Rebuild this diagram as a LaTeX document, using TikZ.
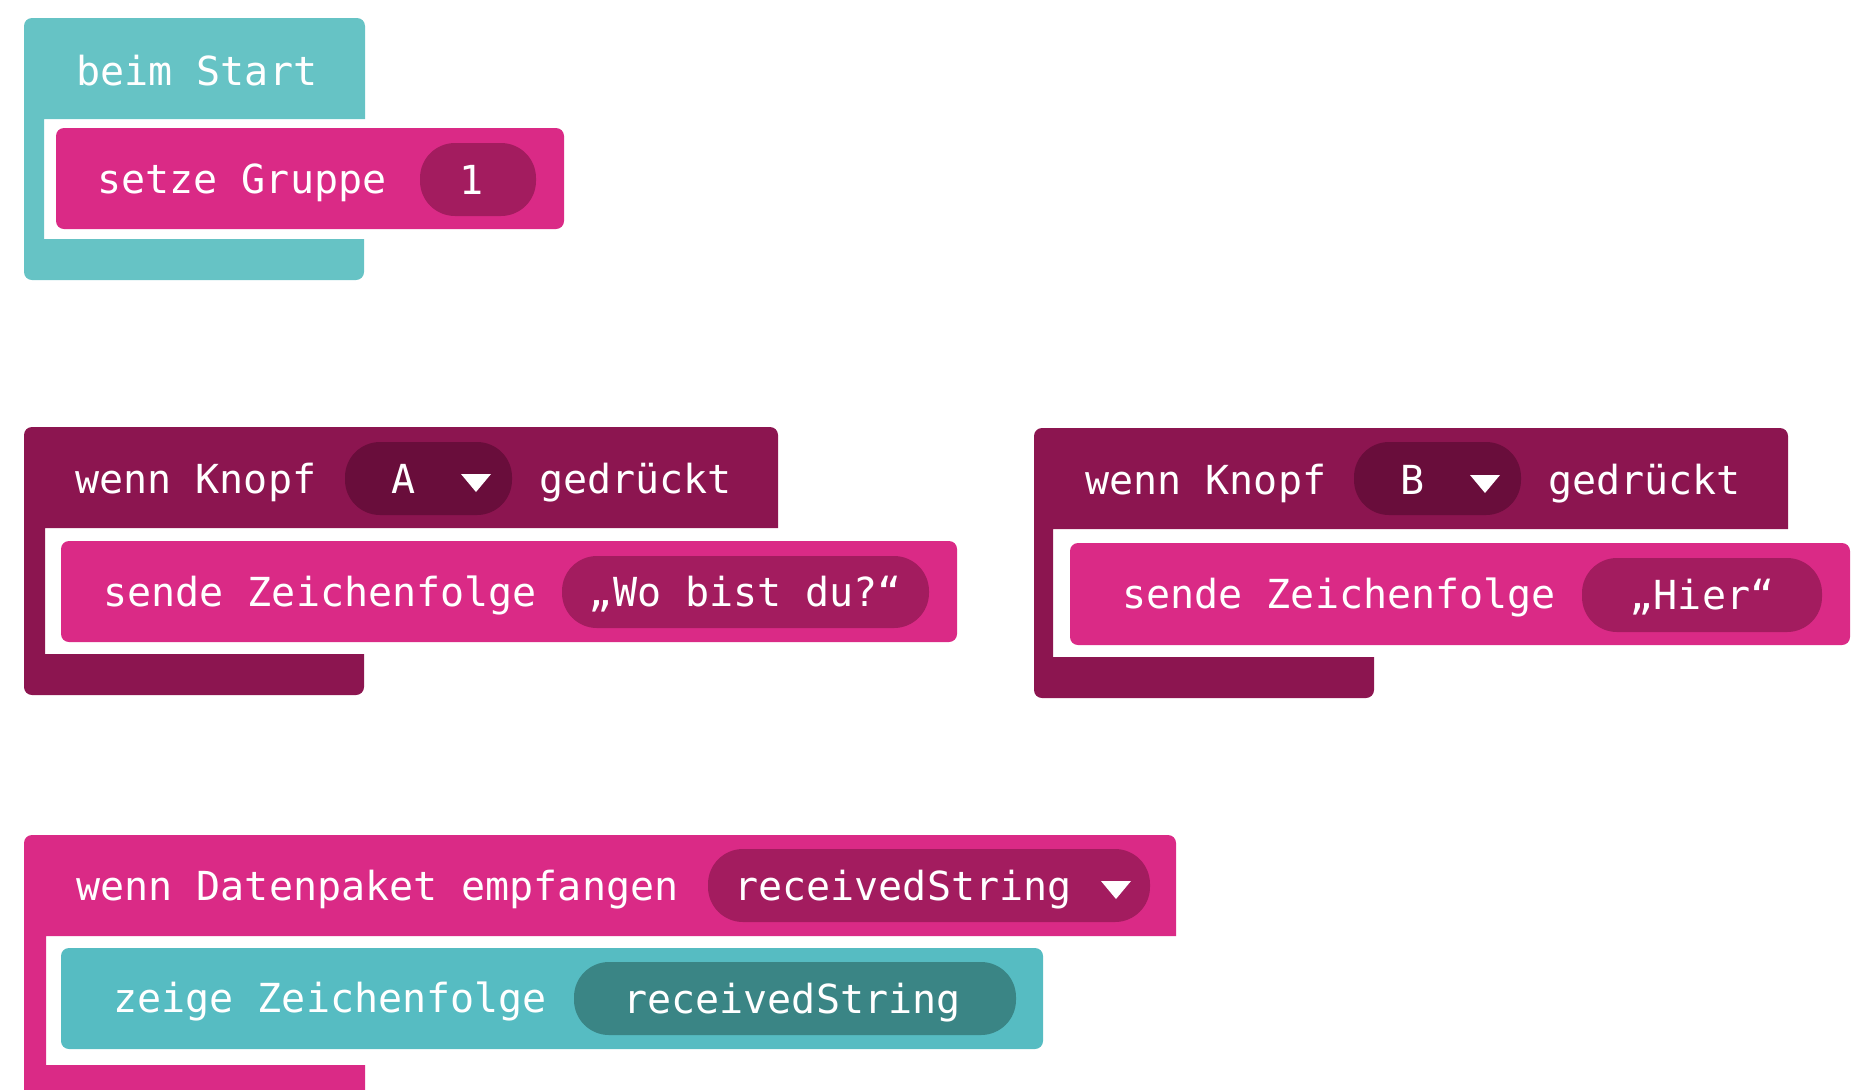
\documentclass[tikz,border=0pt]{standalone}
\usepackage{fontspec}
\setmonofont{DejaVu Sans Mono}
\usepackage{tikz}

\definecolor{startteal}{HTML}{66C3C5}
\definecolor{showteal}{HTML}{56BCC2}
\definecolor{tealpill}{HTML}{3A8585}
\definecolor{radiopink}{HTML}{DA2A86}
\definecolor{pinkpill}{HTML}{A31C5F}
\definecolor{knopf}{HTML}{8C1550}
\definecolor{knopfpill}{HTML}{690D3B}

\begin{document}
\begin{tikzpicture}[x=0.5pt,y=-0.5pt,
  txt/.style={text=white,inner sep=0pt,anchor=base west,font=\ttfamily\fontsize{20pt}{24pt}\selectfont},
  pilltxt/.style={txt,anchor=base},
  stmt/.style={rounded corners=4pt},
  pill/.style={rounded corners=17.5pt}]
\clip (0,0) rectangle (1865,1089);

% beim Start
\fill[startteal] (44,239) -- (44,119) -- (365,119) [rounded corners=4pt] -- (365,18) -- (24,18) -- (24,280) -- (364,280) [sharp corners] -- (364,239) -- cycle;
\node (start) [txt] at (76,85) {beim Start};
\fill[radiopink,stmt] (56,128) rectangle (564,229);
\node (gruppe) [txt] at (97,193) {setze Gruppe};
\fill[pinkpill,pill] (420,143) rectangle (536,216);
\node (eins) [pilltxt] at (472,194) {1};

% Knopf A
\fill[knopf] (45,654) -- (45,528) -- (778,528) [rounded corners=4pt] -- (778,427) -- (24,427) -- (24,695) -- (364,695) [sharp corners] -- (364,654) -- cycle;
\node (wennA) [txt] at (75,493) {wenn Knopf};
\fill[knopfpill,pill] (345,442) rectangle (512,515);
\node (knopfA) [pilltxt] at (404,493) {A};
\fill[white] (461,474) -- (491,474) -- (476,492) -- cycle;
\node (gedruecktA) [txt] at (539,493) {gedrückt};
\fill[radiopink,stmt] (61,541) rectangle (957,642);
\node (sendeA) [txt] at (103,606) {sende Zeichenfolge};
\fill[pinkpill,pill] (562,556) rectangle (929,628);
\node (woA) [pilltxt] at (745.5,606.5) {„Wo bist du?“};

% Knopf B
\fill[knopf] (1053,657) -- (1053,529) -- (1788,529) [rounded corners=4pt] -- (1788,428) -- (1034,428) -- (1034,698) -- (1374,698) [sharp corners] -- (1374,657) -- cycle;
\node (wennB) [txt] at (1085,494) {wenn Knopf};
\fill[knopfpill,pill] (1354,442) rectangle (1521,515);
\node (knopfB) [pilltxt] at (1413,494) {B};
\fill[white] (1470,475) -- (1500,475) -- (1485,493) -- cycle;
\node (gedruecktB) [txt] at (1548,494) {gedrückt};
\fill[radiopink,stmt] (1070,543) rectangle (1850,645);
\node (sendeB) [txt] at (1122,608) {sende Zeichenfolge};
\fill[pinkpill,pill] (1582,558) rectangle (1822,632);
\node (hierB) [pilltxt] at (1702,609) {„Hier“};

% Datenpaket empfangen
\fill[radiopink] (46,1065) -- (46,936) -- (1176,936) [rounded corners=4pt] -- (1176,835) -- (24,835) -- (24,1110) -- (365,1110) [sharp corners] -- (365,1065) -- cycle;
\node (wennD) [txt] at (76,900) {wenn Datenpaket empfangen};
\fill[pinkpill,pill] (708,849) rectangle (1150,922);
\node (varD) [txt] at (734,900) {receivedString};
\fill[white] (1101,881) -- (1131,881) -- (1116,899) -- cycle;
\fill[showteal,stmt] (61,948) rectangle (1043,1049);
\node (zeige) [txt] at (113,1012) {zeige Zeichenfolge};
\fill[tealpill,pill] (574,962) rectangle (1016,1035);
\node (varZ) [pilltxt] at (792,1013) {receivedString};
\end{tikzpicture}
\end{document}
